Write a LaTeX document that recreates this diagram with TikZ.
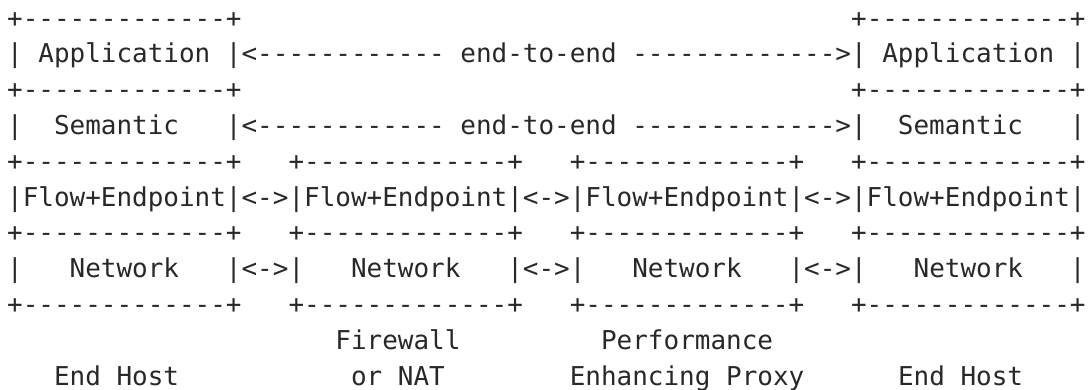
\documentclass[tikz,border=0pt]{standalone}
\usepackage{fontspec}
\setmonofont{DejaVu Sans Mono}
\definecolor{ink}{RGB}{40,40,40}
\newcommand\gap[1]{\hspace*{#1\fontcharwd\font`x}}
\newcommand\boxedge{+-------------+}
\tikzset{
  asciirow/.style={anchor=base west, inner sep=0pt, outer sep=0pt,
    text=ink, font=\ttfamily\fontsize{25.96pt}{30pt}\selectfont}
}
\begin{document}
\begin{tikzpicture}[x=1pt,y=1pt]
\useasboundingbox (0,0) rectangle (1089,-390);
\def\lx{7.2}
\node[asciirow] (row1) at (\lx,-27.2) {\boxedge\gap{39}\boxedge};
\node[asciirow] (row2) at (\lx,-63.0) {|\gap{1}Application\gap{1}|<------------\gap{1}end-to-end\gap{1}------------->|\gap{1}Application\gap{1}|};
\node[asciirow] (row3) at (\lx,-98.8) {\boxedge\gap{39}\boxedge};
\node[asciirow] (row4) at (\lx,-134.6) {|\gap{2}Semantic\gap{3}|<------------\gap{1}end-to-end\gap{1}------------->|\gap{2}Semantic\gap{3}|};
\node[asciirow] (row5) at (\lx,-170.3) {\boxedge\gap{3}\boxedge\gap{3}\boxedge\gap{3}\boxedge};
\node[asciirow] (row6) at (\lx,-206.1) {|Flow+Endpoint|<->|Flow+Endpoint|<->|Flow+Endpoint|<->|Flow+Endpoint|};
\node[asciirow] (row7) at (\lx,-241.9) {\boxedge\gap{3}\boxedge\gap{3}\boxedge\gap{3}\boxedge};
\node[asciirow] (row8) at (\lx,-277.7) {|\gap{3}Network\gap{3}|<->|\gap{3}Network\gap{3}|<->|\gap{3}Network\gap{3}|<->|\gap{3}Network\gap{3}|};
\node[asciirow] (row9) at (\lx,-313.4) {\boxedge\gap{3}\boxedge\gap{3}\boxedge\gap{3}\boxedge};
\node[asciirow] (row10) at (\lx,-349.2) {\gap{21}Firewall\gap{9}Performance};
\node[asciirow] (row11) at (\lx,-385.0) {\gap{3}End\gap{1}Host\gap{11}or\gap{1}NAT\gap{8}Enhancing\gap{1}Proxy\gap{6}End\gap{1}Host};
\end{tikzpicture}
\end{document}
